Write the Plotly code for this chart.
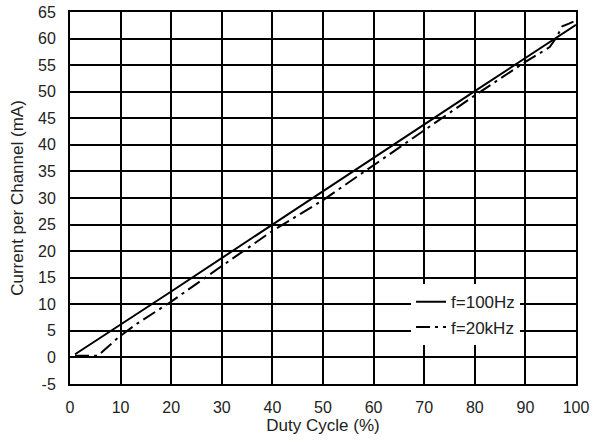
import plotly.graph_objects as go

# Data
duty_100hz = [1, 20, 40, 60, 80, 100]
current_100hz = [0.6, 12.4, 25.0, 37.6, 50.1, 62.6]

duty_20khz = [1, 5.5, 7, 9.5, 13, 15, 20, 30, 40, 50, 60, 70, 80, 90, 94.8, 96, 97.3, 98.6, 99.5]
current_20khz = [0.3, 0.3, 1.6, 3.7, 6.2, 7.4, 10.5, 17.2, 23.8, 29.6, 36.2, 42.8, 49.3, 55.6, 58.4, 60.0, 62.3, 62.8, 63.2]

x_ticks = [0, 10, 20, 30, 40, 50, 60, 70, 80, 90, 100]
y_ticks = [-5, 0, 5, 10, 15, 20, 25, 30, 35, 40, 45, 50, 55, 60, 65]

FONT = "Liberation Sans, Arial, sans-serif"

fig = go.Figure()
fig.add_trace(go.Scatter(x=duty_100hz, y=current_100hz, mode="lines", name="f=100Hz",
                         line=dict(color="black", width=2)))
fig.add_trace(go.Scatter(x=duty_20khz, y=current_20khz, mode="lines", name="f=20kHz",
                         line=dict(color="black", width=2, dash="14px,5px,3px,5px")))

axis_common = dict(showgrid=True, gridcolor="black", gridwidth=1.5, zeroline=False,
                   showline=True, linecolor="black", linewidth=2, mirror=True,
                   ticks="", automargin=False, ticklabeloverflow="allow",
                   tickfont=dict(family=FONT, size=16, color="#222"),
                   title_font=dict(family=FONT, size=17, color="#222"))

fig.update_xaxes(range=[0, 100], tickvals=x_ticks, ticktext=[str(v) for v in x_ticks],
                 title_text="Duty Cycle (%)", ticklabelstandoff=8, title_standoff=4,
                 **axis_common)
fig.update_yaxes(range=[-5, 65], tickvals=y_ticks, ticktext=[str(v) for v in y_ticks],
                 title_text="Current per Channel (mA)", ticklabelstandoff=9, title_standoff=10,
                 **axis_common)

fig.update_layout(
    width=597, height=442,
    margin=dict(l=69.5, r=21, t=12.3, b=57.7),
    plot_bgcolor="white", paper_bgcolor="white",
    font=dict(family=FONT, color="#222"),
    legend=dict(x=0.674, y=0.268, xanchor="left", yanchor="top",
                bgcolor="white", borderwidth=0,
                font=dict(family=FONT, size=17, color="#222"),
                tracegroupgap=0, itemwidth=30),
    showlegend=True,
)

# remove the page's default body margin so the figure sits at the top-left corner
fig.write_html("out.html", config={"displayModeBar": False},
               post_script="document.body.style.margin='0';")
